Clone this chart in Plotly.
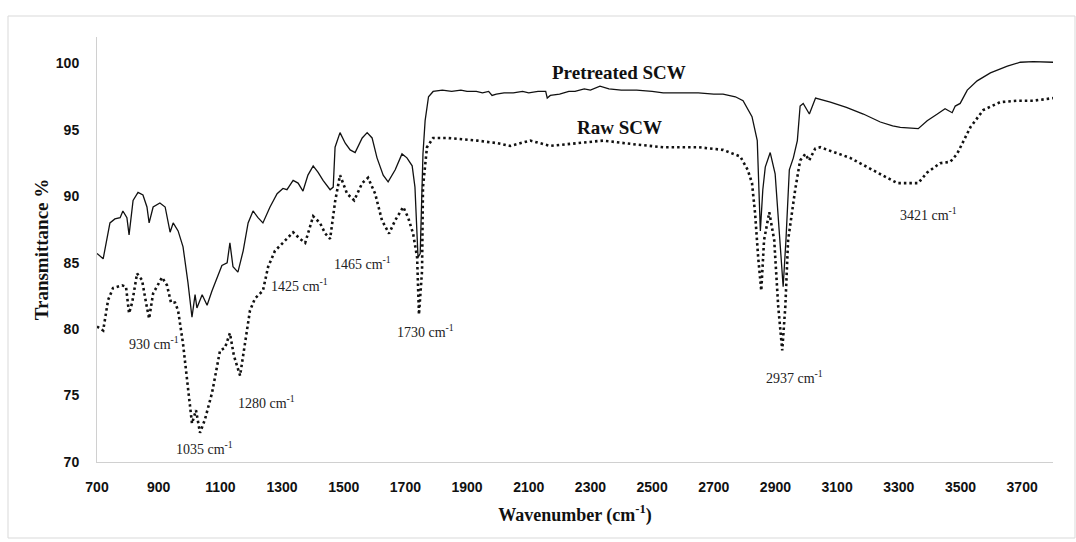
import plotly.graph_objects as go

# Pretreated SCW (solid)
pre_wn = [700, 720, 742, 758, 775, 784, 797, 804, 817, 833, 849, 862, 869, 882, 904, 921, 937, 947, 963, 979,
          995, 1008, 1018, 1024, 1041, 1057, 1073, 1089, 1105, 1122, 1131, 1141, 1157, 1174, 1190, 1206, 1222,
          1238, 1261, 1284, 1303, 1316, 1336, 1352, 1368, 1384, 1401, 1417, 1433, 1456, 1466, 1472, 1488, 1505,
          1521, 1537, 1560, 1576, 1592, 1608, 1628, 1644, 1667, 1689, 1705, 1722, 1731, 1741, 1748, 1757, 1764,
          1775, 1790, 1820, 1850, 1880, 1900, 1930, 1950, 1970, 1981, 1995, 2020, 2050, 2080, 2100, 2130, 2155,
          2160, 2170, 2200, 2230, 2250, 2280, 2300, 2331, 2360, 2400, 2450, 2500, 2536, 2600, 2650, 2700, 2730,
          2770, 2795, 2824, 2841, 2851, 2859, 2867, 2883, 2899, 2915, 2925, 2934, 2945, 2958, 2971, 2980, 2990,
          3010, 3030, 3078, 3130, 3185, 3240, 3280, 3305, 3363, 3392, 3425, 3450, 3473, 3483, 3499, 3522, 3554,
          3597, 3652, 3694, 3736, 3770, 3800]
pre_t = [85.7, 85.3, 88.0, 88.3, 88.4, 88.9, 88.4, 87.1, 89.7, 90.3, 90.1, 89.2, 88.0, 89.2, 89.5, 89.2, 87.3, 88.0,
         87.4, 86.2, 83.5, 80.9, 82.6, 81.6, 82.6, 81.8, 82.9, 83.9, 84.8, 85.0, 86.5, 84.7, 84.3, 85.9, 88.0, 88.9,
         88.4, 88.0, 89.2, 90.2, 90.6, 90.5, 91.2, 91.0, 90.4, 91.6, 92.3, 91.8, 91.2, 90.5, 90.7, 93.7, 94.8, 94.0,
         93.5, 93.3, 94.4, 94.8, 94.4, 92.9, 91.6, 91.1, 92.0, 93.2, 92.9, 92.3, 90.7, 85.4, 85.7, 93.2, 95.7,
         97.5, 97.9, 98.0, 97.9, 98.0, 97.9, 97.9, 97.8, 97.9, 97.6, 97.7, 97.8, 97.8, 97.9, 97.8, 97.9, 97.9,
         97.4, 97.6, 97.7, 97.9, 97.9, 98.1, 98.0, 98.3, 98.1, 98.0, 98.0, 97.9, 97.8, 97.8, 97.8, 97.7, 97.7,
         97.5, 97.2, 96.0, 94.2, 87.4, 90.5, 92.2, 93.3, 91.7, 86.7, 83.2, 86.7, 92.0, 92.9, 94.2, 96.8, 97.0,
         96.2, 97.4, 97.1, 96.7, 96.2, 95.6, 95.3, 95.2, 95.1, 95.7, 96.2, 96.6, 96.3, 96.8, 97.0, 98.0, 98.7,
         99.3, 99.8, 100.1, 100.15, 100.1, 100.1]

# Raw SCW (dotted)
raw_wn = [700, 720, 736, 752, 781, 794, 804, 814, 830, 846, 859, 869, 882, 911, 927, 940, 953, 963, 979, 995, 1008,
          1021, 1034, 1050, 1073, 1099, 1115, 1131, 1144, 1164, 1180, 1196, 1212, 1238, 1255, 1277, 1303, 1336,
          1358, 1375, 1401, 1423, 1440, 1456, 1472, 1488, 1511, 1534, 1560, 1579, 1602, 1624, 1647, 1667, 1693,
          1709, 1725, 1738, 1744, 1754, 1757, 1770, 1790, 1835, 1933, 2000, 2040, 2105, 2169, 2250, 2341, 2450,
          2536, 2650, 2730, 2786, 2810, 2824, 2834, 2844, 2854, 2863, 2880, 2896, 2909, 2922, 2932, 2941, 2964,
          2980, 2997, 3009, 3029, 3045, 3142, 3230, 3295, 3363, 3392, 3434, 3467, 3489, 3506, 3532, 3574, 3629,
          3684, 3736, 3800]
raw_t = [80.2, 79.9, 82.2, 83.1, 83.3, 83.2, 81.2, 82.0, 84.2, 83.7, 82.0, 80.8, 82.7, 83.9, 83.3, 82.0, 82.0, 81.4,
         78.9, 75.6, 72.9, 73.9, 72.2, 73.2, 75.2, 78.4, 78.6, 79.7, 78.0, 76.5, 78.9, 81.4, 82.3, 82.9, 84.7, 85.9,
         86.5, 87.3, 86.8, 86.5, 88.5, 88.0, 87.2, 86.8, 89.6, 91.6, 90.2, 89.7, 91.0, 91.4, 90.2, 88.2, 87.2, 88.2,
         89.2, 88.4, 87.2, 85.4, 81.1, 84.4, 90.7, 93.7, 94.4, 94.4, 94.2, 94.0, 93.8, 94.2, 93.8, 94.0, 94.2, 93.9,
         93.7, 93.7, 93.5, 93.0, 92.0, 91.0, 88.7, 85.4, 82.9, 86.7, 88.8, 86.7, 81.7, 78.4, 81.7, 86.7, 90.5,
         92.7, 93.2, 92.7, 93.6, 93.7, 92.9, 91.8, 91.0, 91.0, 91.8, 92.5, 92.6, 93.2, 94.0, 95.2, 96.5, 97.1,
         97.2, 97.2, 97.4]

x_ticks = [700, 900, 1100, 1300, 1500, 1700, 1900, 2100, 2300, 2500, 2700, 2900, 3100, 3300, 3500, 3700]
y_ticks = [70, 75, 80, 85, 90, 95, 100]

peak_labels = ["930", "1035", "1280", "1425", "1465", "1730", "2937", "3421"]
peak_label_x = [885, 1050, 1248, 1358, 1560, 1764, 2961, 3395]
peak_label_y = [78.95, 71.05, 74.5, 83.3, 85.0, 79.9, 76.4, 88.7]

series_names = ["Pretreated SCW", "Raw SCW"]
series_label_x = [2393, 2393]
series_label_y = [99.3, 95.2]

fig = go.Figure()
fig.add_trace(go.Scatter(x=pre_wn, y=pre_t, mode="lines", name=series_names[0],
                         line=dict(color="#111111", width=1.3)))
fig.add_trace(go.Scatter(x=raw_wn, y=raw_t, mode="lines", name=series_names[1],
                         line=dict(color="#111111", width=2.6, dash="2.5px,3px")))

serif = "Liberation Serif, Times New Roman, serif"
for lab, x, y in zip(peak_labels, peak_label_x, peak_label_y):
    fig.add_annotation(x=x, y=y, text=f"{lab} cm<sup>-1</sup>", showarrow=False,
                       font=dict(family=serif, size=14, color="#222222"))
for lab, x, y in zip(series_names, series_label_x, series_label_y):
    fig.add_annotation(x=x, y=y, text=lab, showarrow=False,
                       font=dict(family=serif, size=19, color="#111111", weight="bold"))

W, H = 1076, 542
L, R, T, B = 97, 23, 37, 80
pw, ph = W - L - R, H - T - B
fig.add_shape(type="rect", xref="paper", yref="paper",
              x0=(8 - L) / pw, x1=(1075 - L) / pw,
              y0=(H - B - 538) / ph, y1=(H - B - 16) / ph,
              line=dict(color="#d9d9d9", width=1), fillcolor="rgba(0,0,0,0)", layer="below")

tickfont = dict(family="Liberation Sans, Arial, sans-serif", size=14, color="#111111", weight="bold")
fig.update_layout(
    width=W, height=H,
    margin=dict(l=L, r=R, t=T, b=B),
    paper_bgcolor="white", plot_bgcolor="white",
    showlegend=False,
    xaxis=dict(range=[700, 3800], tickvals=x_ticks, showgrid=False, zeroline=False,
               showline=True, linecolor="#d0d0d0", linewidth=1, ticks="",
               tickfont=tickfont, ticklabelstandoff=12,
               title=dict(text="Wavenumber (cm<sup>-1</sup>)", standoff=14,
                          font=dict(family=serif, size=18, color="#111111", weight="bold"))),
    yaxis=dict(range=[70, 102], tickvals=y_ticks, showgrid=False, zeroline=False,
               showline=True, linecolor="#d0d0d0", linewidth=1, ticks="",
               tickfont=tickfont, ticklabelstandoff=14,
               title=dict(text="Transmittance %", standoff=2,
                          font=dict(family=serif, size=19, color="#111111", weight="bold"))),
)

fig.write_html("out.html")
